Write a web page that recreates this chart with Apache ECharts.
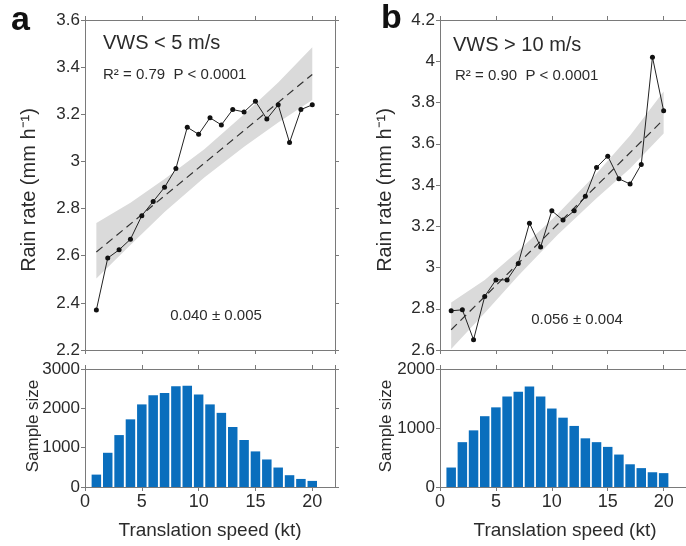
<!DOCTYPE html>
<html>
<head>
<meta charset="utf-8">
<script src="https://cdn.jsdelivr.net/npm/echarts@6/dist/echarts.min.js"></script>
<style>
  html, body { margin: 0; padding: 0; background: #fff; }
  #chart { width: 686px; height: 546px; }
</style>
</head>
<body>
<div id="chart"></div>
<script>
// translation speed bins (kt)
var speeds = [1, 2, 3, 4, 5, 6, 7, 8, 9, 10, 11, 12, 13, 14, 15, 16, 17, 18, 19, 20];

// rain rate (mm/h)
var rainA = [2.37, 2.59, 2.625, 2.67, 2.77, 2.83, 2.89, 2.97, 3.145, 3.115, 3.185, 3.155, 3.22, 3.21, 3.255, 3.18, 3.24, 3.08, 3.22, 3.24];
var rainB = [2.79, 2.795, 2.65, 2.86, 2.94, 2.94, 3.02, 3.215, 3.1, 3.275, 3.23, 3.275, 3.345, 3.485, 3.54, 3.43, 3.405, 3.5, 4.02, 3.76];

// sample size
var countA = [315, 870, 1320, 1720, 2100, 2330, 2390, 2560, 2575, 2350, 2100, 1885, 1525, 1195, 905, 700, 495, 300, 205, 155];
var countB = [330, 760, 960, 1200, 1350, 1535, 1615, 1705, 1535, 1330, 1175, 1035, 825, 760, 680, 550, 385, 320, 250, 235];

// regression line ends
var fitX = [1, 20];
var fitA = [2.616, 3.369];
var fitB = [2.698, 3.718];

// confidence band
var bandX = [1, 4, 7, 10.5, 14, 17, 20];
var bandALow = [2.503, 2.645, 2.785, 2.932, 3.062, 3.165, 3.261];
var bandAHigh = [2.739, 2.825, 2.925, 3.052, 3.200, 3.335, 3.484];
var bandBLow = [2.605, 2.78, 2.96, 3.158, 3.336, 3.48, 3.65];
var bandBHigh = [2.830, 2.94, 3.08, 3.258, 3.456, 3.64, 3.853];

var FONT = 'Liberation Sans, Arial, sans-serif';
var AX = '#7a7a7a';
var TXT = '#2b2b2b';

var myChart = echarts.init(document.getElementById('chart'));

function xAx(grid, pos, showLabel) {
    return {
        type: 'value', gridIndex: grid, position: pos,
        min: 0, max: 22, interval: 5,
        splitLine: { show: false },
        axisLine: { onZero: false, lineStyle: { color: AX, width: 1 } },
        axisTick: { show: true, inside: false, length: 4, lineStyle: { color: AX } },
        axisLabel: { show: showLabel, color: TXT, fontSize: 18, fontFamily: FONT, margin: 6, showMaxLabel: false }
    };
}

function yAx(grid, pos, min, max, step, showLabel) {
    return {
        type: 'value', gridIndex: grid, position: pos,
        min: min, max: max, interval: step,
        splitLine: { show: false },
        axisLine: { onZero: false, lineStyle: { color: AX, width: 1 } },
        axisTick: { show: true, inside: false, length: 4, lineStyle: { color: AX } },
        axisLabel: {
            show: showLabel, color: TXT, fontSize: 17, fontFamily: FONT, margin: 5,
            formatter: function (v) { return String(Math.round(v * 10) / 10); }
        }
    };
}

function pairs(xs, ys) {
    return xs.map(function (x, i) { return [x, ys[i]]; });
}

function band(idx, lo, hi) {
    return {
        type: 'custom', xAxisIndex: idx, yAxisIndex: idx, z: 1, silent: true,
        data: [[bandX[0], lo[0]]],
        renderItem: function (params, api) {
            var pts = [];
            for (var i = 0; i < bandX.length; i++) pts.push(api.coord([bandX[i], hi[i]]));
            for (var j = bandX.length - 1; j >= 0; j--) pts.push(api.coord([bandX[j], lo[j]]));
            return { type: 'polygon', shape: { points: pts }, style: { fill: '#dadada' } };
        }
    };
}

function fitLine(idx, ys) {
    return {
        type: 'line', xAxisIndex: idx, yAxisIndex: idx, z: 2, symbol: 'none',
        data: pairs(fitX, ys),
        lineStyle: { color: '#333', width: 1.2, type: [8, 5] }
    };
}

function rainLine(idx, ys) {
    return {
        type: 'line', xAxisIndex: idx, yAxisIndex: idx, z: 3,
        data: pairs(speeds, ys),
        symbol: 'circle', symbolSize: 5,
        itemStyle: { color: '#111' },
        lineStyle: { color: '#222', width: 1 }
    };
}

function bars(idx, ys) {
    return {
        type: 'bar', xAxisIndex: idx, yAxisIndex: idx,
        data: pairs(speeds, ys),
        barWidth: 9.5,
        itemStyle: { color: '#0a6ebd' }
    };
}

function txt(x, y, s, size, align, rot) {
    return {
        type: 'text', x: x, y: y, rotation: rot || 0,
        style: { text: s, fill: TXT, font: size + 'px ' + FONT, textAlign: align || 'left', textVerticalAlign: 'middle' }
    };
}

var option = {
    animation: false,
    grid: [
        { left: 85, top: 20, width: 250, height: 330 },
        { left: 85, top: 369, width: 250, height: 118 },
        { left: 440, top: 20, width: 248, height: 330 },
        { left: 440, top: 369, width: 248, height: 118 }
    ],
    xAxis: [
        xAx(0, 'bottom', false), xAx(1, 'bottom', true), xAx(2, 'bottom', false), xAx(3, 'bottom', true),
        xAx(0, 'top', false), xAx(1, 'top', false), xAx(2, 'top', false), xAx(3, 'top', false)
    ],
    yAxis: [
        yAx(0, 'left', 2.2, 3.6, 0.2, true), yAx(1, 'left', 0, 3000, 1000, true),
        yAx(2, 'left', 2.6, 4.2, 0.2, true), yAx(3, 'left', 0, 2000, 1000, true),
        yAx(0, 'right', 2.2, 3.6, 0.2, false), yAx(1, 'right', 0, 3000, 1000, false),
        yAx(2, 'right', 2.6, 4.2, 0.2, false), yAx(3, 'right', 0, 2000, 1000, false)
    ],
    series: [
        band(0, bandALow, bandAHigh), fitLine(0, fitA), rainLine(0, rainA), bars(1, countA),
        band(2, bandBLow, bandBHigh), fitLine(2, fitB), rainLine(2, rainB), bars(3, countB)
    ],
    graphic: [
        { type: 'text', x: 11, y: 21, style: { text: 'a', fill: '#111', font: 'bold 34px ' + FONT, textVerticalAlign: 'middle' } },
        { type: 'text', x: 381, y: 19, style: { text: 'b', fill: '#111', font: 'bold 34px ' + FONT, textVerticalAlign: 'middle' } },
        txt(103, 43, 'VWS < 5 m/s', 20),
        txt(103, 75, 'R\u00b2 = 0.79  P < 0.0001', 15),
        txt(216, 316, '0.040 \u00b1 0.005', 15, 'center'),
        txt(453, 45, 'VWS > 10 m/s', 20),
        txt(455, 76, 'R\u00b2 = 0.90  P < 0.0001', 15),
        txt(577, 320, '0.056 \u00b1 0.004', 15, 'center'),
        txt(29, 190, 'Rain rate (mm h\u207b\u00b9)', 20, 'center', Math.PI / 2),
        txt(33, 426, 'Sample size', 17, 'center', Math.PI / 2),
        txt(385, 190, 'Rain rate (mm h\u207b\u00b9)', 20, 'center', Math.PI / 2),
        txt(386, 426, 'Sample size', 17, 'center', Math.PI / 2),
        txt(210, 531, 'Translation speed (kt)', 19, 'center'),
        txt(565, 531, 'Translation speed (kt)', 19, 'center')
    ]
};

myChart.setOption(option);
</script>
</body>
</html>
